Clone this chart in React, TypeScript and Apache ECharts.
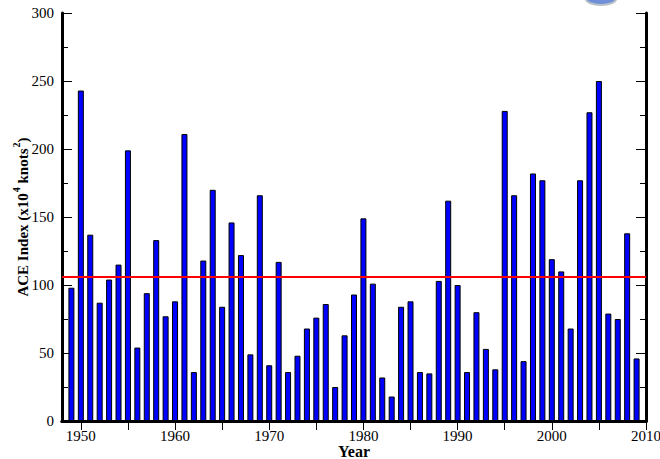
import React, { useEffect, useRef } from "react";
import * as echarts from "echarts";

const years = [
  1949, 1950, 1951, 1952, 1953, 1954, 1955, 1956, 1957, 1958, 1959,
  1960, 1961, 1962, 1963, 1964, 1965, 1966, 1967, 1968, 1969,
  1970, 1971, 1972, 1973, 1974, 1975, 1976, 1977, 1978, 1979,
  1980, 1981, 1982, 1983, 1984, 1985, 1986, 1987, 1988, 1989,
  1990, 1991, 1992, 1993, 1994, 1995, 1996, 1997, 1998, 1999,
  2000, 2001, 2002, 2003, 2004, 2005, 2006, 2007, 2008, 2009,
];

const aceValues = [
  98, 243, 137, 87, 104, 115, 199, 54, 94, 133, 77,
  88, 211, 36, 118, 170, 84, 146, 122, 49, 166,
  41, 117, 36, 48, 68, 76, 86, 25, 63, 93,
  149, 101, 32, 18, 84, 88, 36, 35, 103, 162,
  100, 36, 80, 53, 38, 228, 166, 44, 182, 177,
  119, 110, 68, 177, 227, 250, 79, 75, 138, 46,
];

const meanValue = 106;
const xLabelValues = [1950, 1960, 1970, 1980, 1990, 2000, 2010];
const xTickValues = [1950, 1955, 1960, 1965, 1970, 1975, 1980, 1985, 1990, 1995, 2000, 2005, 2010];

const FONT = "'Liberation Serif', 'DejaVu Serif', serif";

export default function App() {
  const ref = useRef<HTMLDivElement>(null);
  useEffect(() => {
    if (!ref.current) return;
    const chart = echarts.init(ref.current, undefined, { renderer: "svg" });
    const axisLine = { show: true, lineStyle: { color: "#000", width: 3 } };
    chart.setOption({
      animation: false,
      backgroundColor: "#fff",
      grid: {
        left: 62,
        right: 14,
        top: 13,
        bottom: 38,
        containLabel: false,
        outerBoundsMode: "none",
      },
      xAxis: [
        {
          type: "value",
          min: 1948,
          max: 2010,
          axisLine,
          axisTick: {
            show: true,
            inside: true,
            length: 9,
            customValues: xTickValues,
            lineStyle: { color: "#000", width: 1 },
          },
          axisLabel: {
            show: true,
            customValues: xLabelValues,
            formatter: (v: number) => String(v),
            margin: 7,
            color: "#000",
            fontFamily: FONT,
            fontSize: 15,
          },
          splitLine: { show: false },
        },
        {
          type: "value",
          position: "top",
          min: 1948,
          max: 2010,
          axisLine,
          axisTick: {
            show: true,
            inside: true,
            length: 9,
            customValues: xTickValues,
            lineStyle: { color: "#000", width: 1 },
          },
          axisLabel: { show: false },
          splitLine: { show: false },
        },
      ],
      yAxis: [
        {
          type: "value",
          min: 0,
          max: 300,
          interval: 50,
          axisLine,
          axisTick: { show: true, inside: true, length: 10, lineStyle: { color: "#000", width: 1 } },
          minorTick: { show: true, splitNumber: 2, length: 6, lineStyle: { color: "#000", width: 1 } },
          axisLabel: { margin: 8, color: "#000", fontFamily: FONT, fontSize: 15 },
          splitLine: { show: false },
        },
        {
          type: "value",
          position: "right",
          min: 0,
          max: 300,
          interval: 50,
          axisLine,
          axisTick: { show: true, inside: true, length: 10, lineStyle: { color: "#000", width: 1 } },
          minorTick: { show: true, splitNumber: 2, length: 6, lineStyle: { color: "#000", width: 1 } },
          axisLabel: { show: false },
          splitLine: { show: false },
        },
      ],
      series: [
        {
          type: "bar",
          xAxisIndex: 0,
          yAxisIndex: 0,
          barWidth: 6,
          data: years.map((y, i) => [y, aceValues[i]]),
          itemStyle: { color: "#0000ff", borderColor: "#000", borderWidth: 1 },
          z: 2,
          markLine: {
            silent: true,
            symbol: "none",
            label: { show: false },
            lineStyle: { color: "#ff0000", width: 2, type: "solid" },
            data: [{ yAxis: meanValue }],
            z: 5,
          },
        },
      ],
      graphic: [
        {
          type: "text",
          x: 354,
          y: 451,
          style: {
            text: "Year",
            fontFamily: FONT,
            fontWeight: "bold",
            fontSize: 16,
            fill: "#000",
            align: "center",
            verticalAlign: "middle",
          },
        },
        {
          type: "text",
          x: 21,
          y: 217,
          rotation: Math.PI / 2,
          style: {
            text: "{n|ACE Index (x10}{sup|4}{n| knots}{sup|2}{n|)}",
            fontFamily: FONT,
            fontWeight: "bold",
            fontSize: 15,
            fill: "#000",
            align: "center",
            verticalAlign: "middle",
            rich: {
              n: {
                fontFamily: FONT,
                fontWeight: "bold",
                fontSize: 15,
                fill: "#000",
                verticalAlign: "bottom",
              },
              sup: {
                fontFamily: FONT,
                fontWeight: "bold",
                fontSize: 10,
                fill: "#000",
                verticalAlign: "bottom",
                padding: [0, 0, 9, 1],
              },
            },
          },
        },
        {
          type: "ellipse",
          shape: { cx: 601, cy: -1, rx: 15, ry: 6 },
          style: { fill: "#6f8fd8", stroke: "#b8c0c8", lineWidth: 2 },
        },
      ],
    });
    return () => chart.dispose();
  }, []);
  return (
    <div
      ref={ref}
      style={{ position: "absolute", left: 0, top: 0, width: 660, height: 459 }}
    />
  );
}
